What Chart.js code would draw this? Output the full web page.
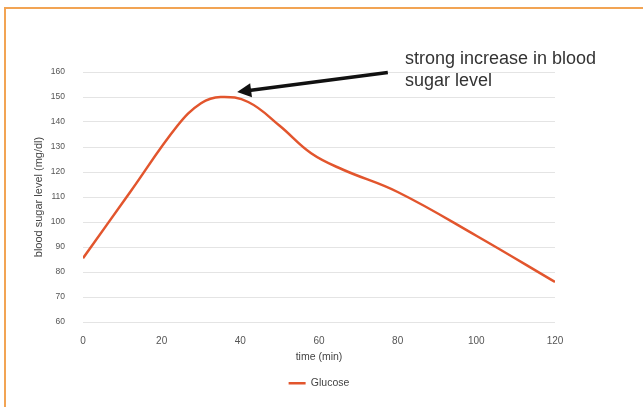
<!DOCTYPE html>
<html>
<head>
<meta charset="utf-8">
<script src="https://cdn.jsdelivr.net/npm/chart.js@4"></script>
<style>
  html, body { margin: 0; padding: 0; background: #fff; }
  #wrap { position: relative; width: 643px; height: 407px; }
  #frame { position: absolute; left: 4px; top: 7px; right: -4px; bottom: -4px;
           border-top: 2px solid #f2a454; border-left: 2px solid #f2a454; }
  canvas { position: absolute; left: 0; top: 0; }
</style>
</head>
<body>
<div id="wrap">
  <div id="frame"></div>
  <canvas id="glucoseChart" width="643" height="407"></canvas>
</div>
<script>
// time (min) and glucose (mg/dl)
const minutes = [0, 12, 24, 30, 35, 42, 50, 58, 66, 80, 100, 120];
const glucose = [85.5, 112, 138.5, 147.5, 150, 148, 138.5, 127.5, 121, 112, 94.5, 76];
const xTicks = [0, 20, 40, 60, 80, 100, 120];
const yTicks = [60, 70, 80, 90, 100, 110, 120, 130, 140, 150, 160];
const noteLines = ['strong increase in blood', 'sugar level'];

const points = minutes.map((m, i) => ({ x: m, y: glucose[i] }));
const font = '"Liberation Sans", Arial, sans-serif';

// arrow + note text
const notePlugin = {
    id: 'note',
    afterDraw(chart) {
        const c = chart.ctx;
        const xs = chart.scales.x, ys = chart.scales.y;
        const tipX = xs.getPixelForValue(39.2), tipY = ys.getPixelForValue(152);
        const tailX = xs.getPixelForValue(77.5), tailY = ys.getPixelForValue(159.8);
        c.save();
        c.strokeStyle = '#111';
        c.fillStyle = '#111';
        c.lineWidth = 3.5;
        const ang = Math.atan2(tipY - tailY, tipX - tailX);
        const cs = Math.cos(ang), sn = Math.sin(ang);
        c.beginPath();
        c.moveTo(tailX, tailY);
        c.lineTo(tipX - 10 * cs, tipY - 10 * sn);
        c.stroke();
        c.beginPath();
        c.moveTo(tipX, tipY);
        c.lineTo(tipX - 14 * cs + 7 * sn, tipY - 14 * sn - 7 * cs);
        c.lineTo(tipX - 14 * cs - 7 * sn, tipY - 14 * sn + 7 * cs);
        c.closePath();
        c.fill();
        c.fillStyle = '#333';
        c.font = '18px ' + font;
        c.textBaseline = 'middle';
        c.fillText(noteLines[0], 405, 59);
        c.fillText(noteLines[1], 405, 81);
        c.restore();
    }
};

const ctx = document.getElementById('glucoseChart').getContext('2d');
const glucoseChart = new Chart(ctx, {
    type: 'line',
    data: {
        datasets: [{
            label: 'Glucose',
            data: points,
            borderColor: '#e2552d',
            backgroundColor: '#e2552d',
            borderWidth: 2.5,
            pointRadius: 0,
            tension: 0.4,
            fill: false
        }]
    },
    options: {
        responsive: false,
        animation: false,
        layout: { padding: { left: 30, right: 88, top: 72, bottom: 8.5 } },
        plugins: {
            legend: {
                position: 'bottom',
                fullSize: false,
                labels: {
                    usePointStyle: true,
                    pointStyle: 'line',
                    pointStyleWidth: 17,
                    color: '#444',
                    font: { family: font, size: 10.5 },
                    padding: 8
                }
            },
            tooltip: { enabled: false }
        },
        scales: {
            x: {
                type: 'linear',
                min: 0, max: 120,
                afterBuildTicks: s => { s.ticks = xTicks.map(v => ({ value: v })); },
                afterFit: s => { s.height = 48; },
                grid: { display: false, drawTicks: false },
                border: { display: false },
                ticks: { color: '#555', padding: 13, maxRotation: 0,
                         font: { family: font, size: 10 } },
                title: { display: true, text: 'time (min)', color: '#444', padding: { top: 0, bottom: 7 },
                         font: { family: font, size: 10.5 } }
            },
            y: {
                min: 60, max: 160,
                afterBuildTicks: s => { s.ticks = yTicks.map(v => ({ value: v })); },
                afterFit: s => { s.width = 53; },
                grid: { color: '#e4e4e4', lineWidth: 1, drawTicks: false },
                border: { display: false },
                ticks: { color: '#555', padding: 18,
                         font: { family: font, size: 8.5 } },
                title: { display: true, text: 'blood sugar level (mg/dl)', color: '#444',
                         padding: { top: 2, bottom: 0 },
                         font: { family: font, size: 11 } }
            }
        }
    },
    plugins: [notePlugin]
});
</script>
</body>
</html>
